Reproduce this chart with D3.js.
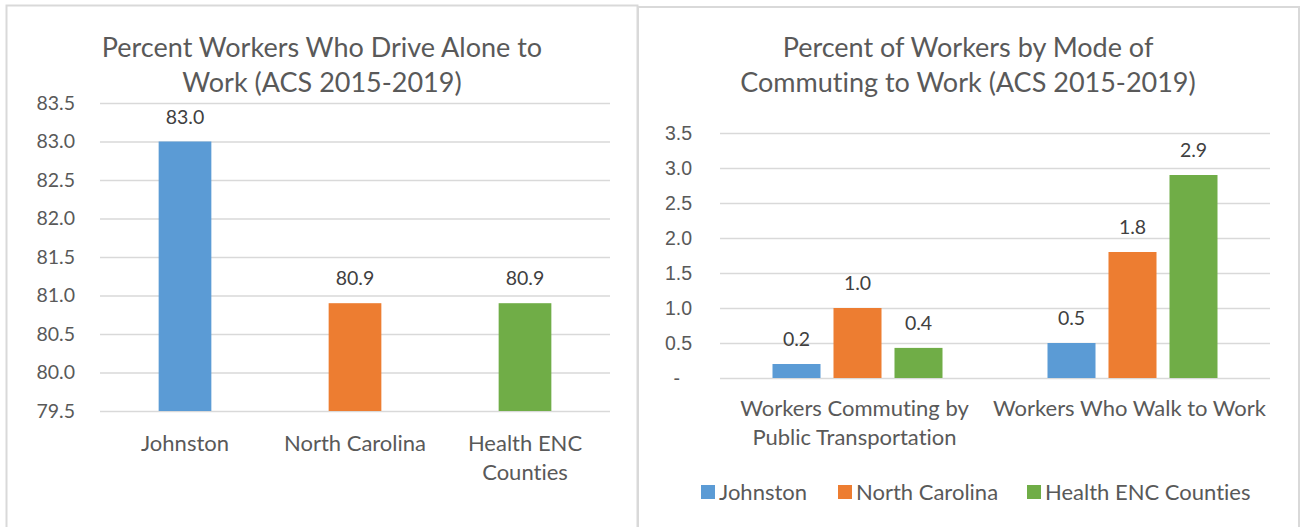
<!DOCTYPE html>
<html><head><meta charset="utf-8">
<script src="https://cdn.jsdelivr.net/npm/d3@7"></script>
<style>
html,body{margin:0;padding:0;background:#fff;}
svg{display:block;font-family:Lato, "Open Sans", sans-serif;font-variant-ligatures:none;font-feature-settings:"liga" 0, "clig" 0;}
</style></head>
<body>
<svg id="c" width="1300" height="527"></svg>
<script>
// ---- data ----
const areas = ["Johnston", "North Carolina", "Health ENC Counties"];
const colors = ["#5B9BD5", "#ED7D31", "#70AD47"];

// Chart 1: Percent Workers Who Drive Alone to Work
const driveLabels = [["Johnston"], ["North Carolina"], ["Health ENC", "Counties"]];
const driveValues = [83.0, 80.9, 80.9];
const driveTicks = [79.5, 80.0, 80.5, 81.0, 81.5, 82.0, 82.5, 83.0, 83.5];

// Chart 2: Percent of Workers by Mode of Commuting
const modes = ["Workers Commuting by Public Transportation", "Workers Who Walk to Work"];
const modeLabels = [["Workers Commuting by", "Public Transportation"], ["Workers Who Walk to Work"]];
const johnstonMode = [0.2, 0.5];
const ncMode = [1.0, 1.8];
const encMode = [0.43, 2.9];
const modeTicks = [0, 0.5, 1.0, 1.5, 2.0, 2.5, 3.0, 3.5];

const title1 = ["Percent Workers Who Drive Alone to", "Work (ACS 2015-2019)"];
const title2 = ["Percent of Workers by Mode of", "Commuting to Work (ACS 2015-2019)"];

const TXT = "#595959", GRID = "#D9D9D9", LBL = "#404040";
const NUM = "19.5px", CAT = "22px";
const svg = d3.select("#c");

// panel borders
svg.append("rect").attr("x",6.5).attr("y",5.5).attr("width",631).attr("height",540)
  .attr("fill","none").attr("stroke","#D9D9D9").attr("stroke-width",2);
svg.append("rect").attr("x",638).attr("y",7).attr("width",661).attr("height",540)
  .attr("fill","#fff").attr("stroke","#D9D9D9").attr("stroke-width",2);

function title(lines, cx) {
  const t = svg.append("text").attr("text-anchor","middle").attr("fill",TXT)
    .style("font-size","27px");
  lines.forEach((l,i)=> t.append("tspan").attr("x",cx).attr("y",57+i*35).text(l));
}

// ---------- Chart 1 ----------
{
  const x = d3.scaleBand().domain(areas).range([100,610]).paddingInner(0.69).paddingOuter(0.345);
  const y = d3.scaleLinear().domain([79.5,83.5]).range([411,103]);
  const g = svg.append("g");
  const ax = g.append("g").attr("transform","translate(100,0)")
    .call(d3.axisLeft(y).tickValues(driveTicks).tickSize(-510).tickPadding(25).tickFormat(d3.format(".1f")));
  ax.select(".domain").remove();
  ax.selectAll("line").attr("stroke",GRID).attr("stroke-width",1.5);
  ax.selectAll("text").attr("fill",TXT).style("font-size",NUM).style("font-family","Lato");

  g.selectAll("rect.bar").data(driveValues).join("rect").attr("class","bar")
    .attr("x",(d,i)=>x(areas[i])).attr("width",x.bandwidth())
    .attr("y",d=>y(d)).attr("height",d=>y(79.5)-y(d)).attr("fill",(d,i)=>colors[i]);
  g.selectAll("text.val").data(driveValues).join("text").attr("class","val")
    .attr("x",(d,i)=>x(areas[i])+x.bandwidth()/2).attr("y",d=>y(d)-18)
    .attr("text-anchor","middle").attr("fill",LBL).style("font-size",NUM).text(d=>d3.format(".1f")(d));
  driveLabels.forEach((lines,i)=>{
    const t = g.append("text").attr("text-anchor","middle").attr("fill",TXT).style("font-size",CAT);
    lines.forEach((l,j)=>t.append("tspan").attr("x",x(areas[i])+x.bandwidth()/2).attr("y",451+j*29).text(l));
  });
  title(title1, 322);
}

// ---------- Chart 2 ----------
{
  const x0 = d3.scaleBand().domain(modes).range([720,1270]);
  const x1 = d3.scaleBand().domain(areas).range([52.5,222.5]).paddingInner(0.213);
  const y = d3.scaleLinear().domain([0,3.5]).range([378,133]);
  const series = [johnstonMode, ncMode, encMode];
  const g = svg.append("g");
  const ax = g.append("g").attr("transform","translate(720,0)")
    .call(d3.axisLeft(y).tickValues(modeTicks).tickSize(-550).tickPadding(28)
      .tickFormat(d=> d===0 ? "-" : d3.format(".1f")(d)));
  ax.select(".domain").remove();
  ax.selectAll("line").attr("stroke",GRID).attr("stroke-width",1.5);
  ax.selectAll("text").attr("fill",TXT).style("font-size",NUM)
    .attr("x",d=> d===0 ? -40 : -28);

  modes.forEach((m,mi)=>{
    series.forEach((s,si)=>{
      const v = s[mi];
      g.append("rect").attr("x",x0(m)+x1(areas[si])).attr("width",x1.bandwidth())
        .attr("y",y(v)).attr("height",y(0)-y(v)).attr("fill",colors[si]);
      g.append("text").attr("x",x0(m)+x1(areas[si])+x1.bandwidth()/2).attr("y",y(v)-18)
        .attr("text-anchor","middle").attr("fill",LBL).style("font-size",NUM).text(d3.format(".1f")(v));
    });
    const t = g.append("text").attr("text-anchor","middle").attr("fill",TXT).style("font-size",CAT);
    modeLabels[mi].forEach((l,j)=>t.append("tspan").attr("x",x0(m)+x0.bandwidth()/2-3).attr("y",416+j*29).text(l));
  });
  title(title2, 968);

  // legend
  const legX = [701, 838, 1027];
  areas.forEach((a,i)=>{
    g.append("rect").attr("x",legX[i]).attr("y",485).attr("width",14).attr("height",14).attr("fill",colors[i]);
    g.append("text").attr("x",legX[i]+18).attr("y",500).attr("fill",TXT).style("font-size",CAT).text(a);
  });
}
</script>
</body></html>
